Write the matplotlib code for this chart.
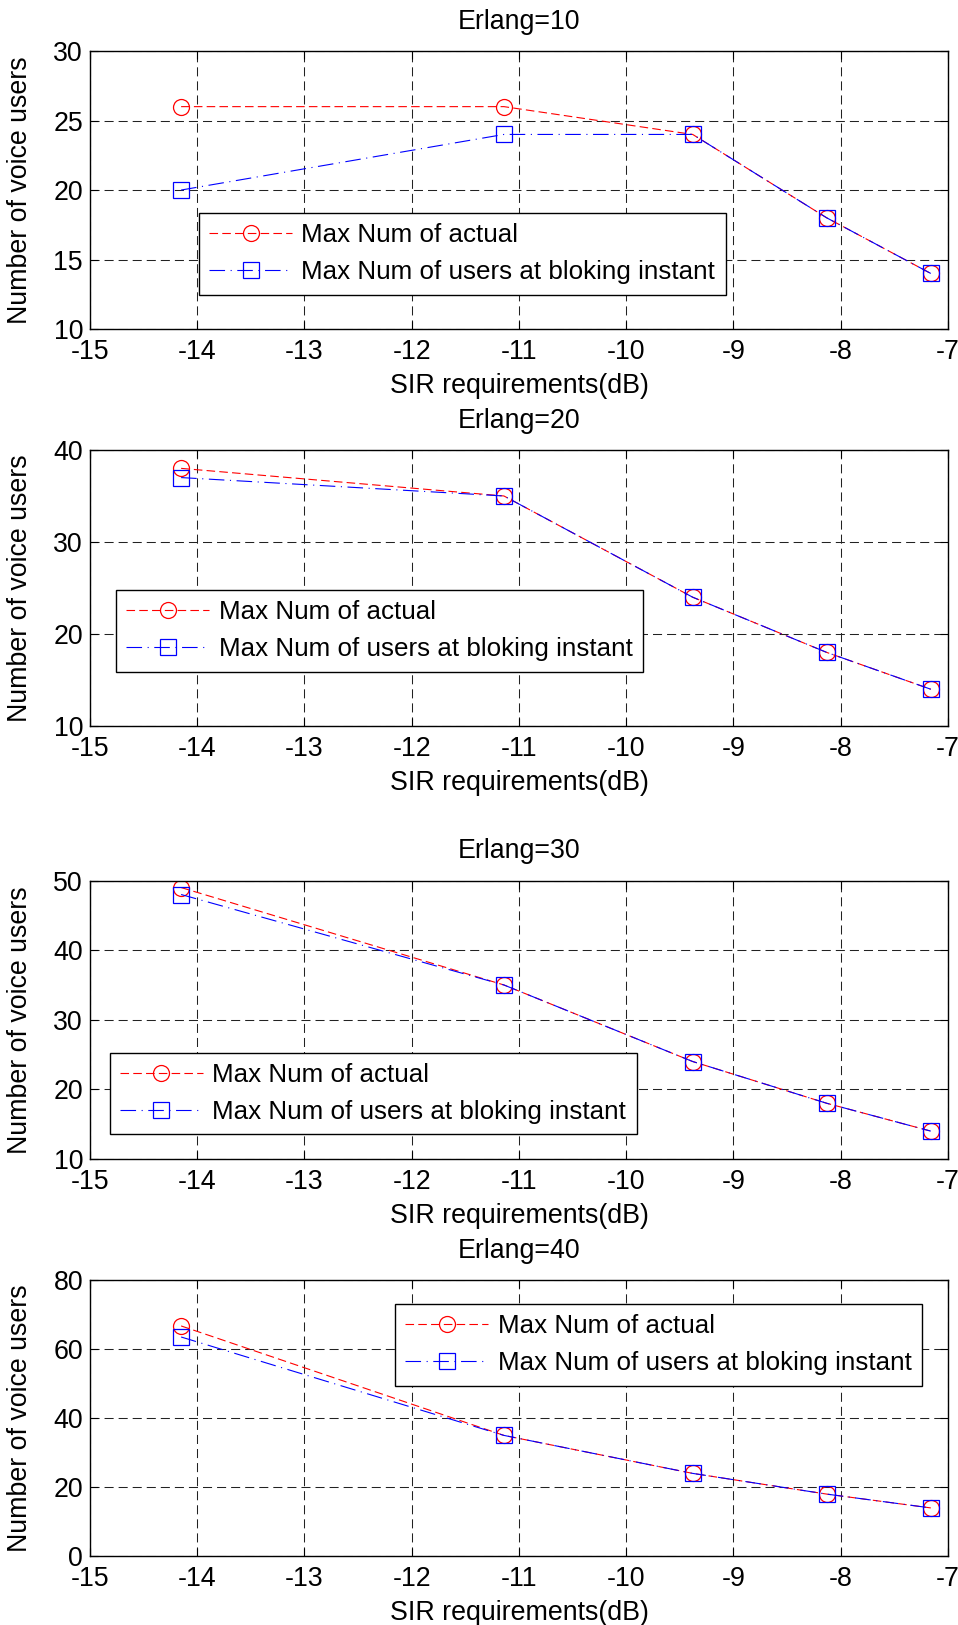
import numpy as np
import matplotlib
matplotlib.use("Agg")
import matplotlib.pyplot as plt

plt.rcParams["font.family"] = ["Liberation Sans", "DejaVu Sans"]
plt.rcParams["font.size"] = 19.3
plt.rcParams["axes.titlesize"] = 19.3
plt.rcParams["axes.unicode_minus"] = False

# SIR requirement values (dB)
sir_db = [-14.15, -11.14, -9.38, -8.13, -7.16]

erlang = [10, 20, 30, 40]
max_actual = [
    [26, 26, 24, 18, 14],
    [38, 35, 24, 18, 14],
    [49, 35, 24, 18, 14],
    [66.7, 35, 24, 18, 14],
]
max_blocking = [
    [20, 24, 24, 18, 14],
    [37, 35, 24, 18, 14],
    [48, 35, 24, 18, 14],
    [63.5, 35, 24, 18, 14],
]
ylims = [(10, 30), (10, 40), (10, 50), (0, 80)]
yticks = [[10, 15, 20, 25, 30], [10, 20, 30, 40], [10, 20, 30, 40, 50], [0, 20, 40, 60, 80]]

# axes boxes in figure fractions [left, bottom, width, height]
positions = [
    [0.0939, 0.7975, 0.8956, 0.1711],
    [0.0939, 0.5532, 0.8956, 0.1699],
    [0.0939, 0.2868, 0.8956, 0.1713],
    [0.0939, 0.0423, 0.8956, 0.1700],
]
legend_anchor = [(0.1266, 0.4183), (0.030, 0.4928), (0.0228, 0.382), (0.3552, 0.9131)]

fig = plt.figure(figsize=(9.58, 16.25), dpi=100)

for i in range(4):
    ax = fig.add_axes(positions[i])
    ax.plot(sir_db, max_actual[i], color="#ff0000", linestyle=(0, (7.7, 3.8)), linewidth=0.8,
            marker="o", markersize=11.5, markerfacecolor="none", markeredgewidth=0.9,
            label="Max Num of actual")
    ax.plot(sir_db, max_blocking[i], color="#0000ff", linestyle=(0, (14, 5, 1, 5)), linewidth=0.8,
            marker="s", markersize=11.5, markerfacecolor="none", markeredgewidth=0.9,
            label="Max Num of users at bloking instant")
    ax.set_xlim(-15, -7)
    ax.set_ylim(*ylims[i])
    ax.set_xticks(range(-15, -6))
    ax.set_yticks(yticks[i])
    ax.grid(True, color="#222222", linestyle=(0, (8.7, 4.8)), linewidth=0.75)
    ax.tick_params(direction="in", length=6, top=True, right=True, width=0.8, pad=5)
    ax.tick_params(axis="x", pad=7)
    for s in ax.spines.values():
        s.set_linewidth(1.0)
    ax.set_title(f"Erlang={erlang[i]}", pad=16)
    ax.set_xlabel("SIR requirements(dB)", labelpad=6)
    ax.set_ylabel("Number of voice users")
    ax.yaxis.set_label_coords(-0.0664, 0.5)
    leg = ax.legend(loc="upper left", bbox_to_anchor=legend_anchor[i], borderaxespad=0,
                    fancybox=False, framealpha=1, edgecolor="black", handlelength=3.2,
                    labelspacing=0.5, borderpad=0.4, handletextpad=0.36, numpoints=1,
                    fontsize=18.7)
    leg.get_frame().set_linewidth(1.0)

fig.savefig("out.png", dpi=100)
